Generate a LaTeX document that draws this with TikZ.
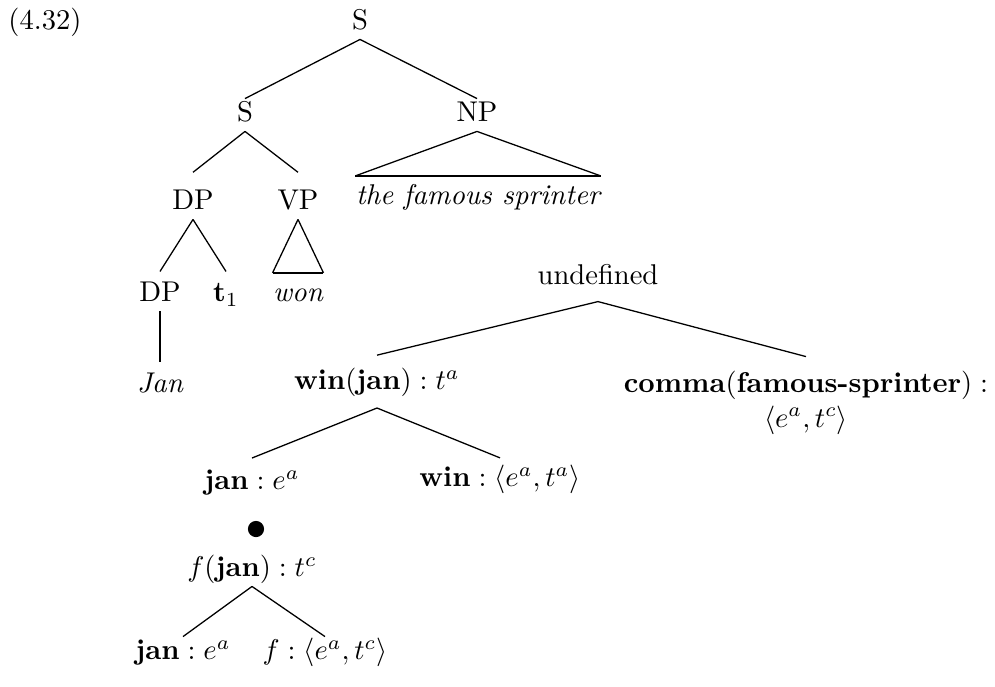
\documentclass[tikz,border=0pt]{standalone}
\usepackage{amsmath}
\begin{document}
\begin{tikzpicture}[x=0.35pt, y=-0.35pt, line width=0.45pt,
    tn/.style={inner sep=1pt, text height=1.6ex, text depth=.5ex},
    base/.style={line width=0.8pt}]
    \useasboundingbox (0,0) rectangle (995,686);

    \node[tn] (ex) at (45,23) {(4.32)};

    \node[tn] (s0) at (360,23) {S};
    \node[tn] (s1) at (245,115) {S};
    \node[tn] (np) at (477,115) {NP};
    \node[tn] (dp1) at (193,203) {DP};
    \node[tn] (vp) at (298,203) {VP};
    \node[tn, inner xsep=0pt] (fs) at (478,198) {\itshape the famous sprinter};
    \node[tn] (dp2) at (160,295) {DP};
    \node[tn] (t1) at (226,295) {$\mathbf{t}_1$};
    \node[tn, inner xsep=0pt] (won) at (298,295) {\itshape won};
    \node[tn] (jan) at (160,386) {\itshape Jan};

    \draw (s0.south) -- (s1.north);
    \draw (s0.south) -- (np.north);
    \draw (s1.south) -- ([yshift=5pt]dp1.north);
    \draw (s1.south) -- ([yshift=5pt]vp.north);
    \draw (np.south) -- ([yshift=2pt]fs.north west);
    \draw (np.south) -- ([yshift=2pt]fs.north east);
    \draw[base] ([yshift=2pt]fs.north west) -- ([yshift=2pt]fs.north east);
    \draw (dp1.south) -- ([yshift=2.5pt]dp2.north);
    \draw (dp1.south) -- ([yshift=2.5pt]t1.north);
    \draw (vp.south) -- ([yshift=2pt]won.north west);
    \draw (vp.south) -- ([yshift=2pt]won.north east);
    \draw[base] ([yshift=2pt]won.north west) -- ([yshift=2pt]won.north east);
    \draw[base] (dp2.south) -- ([yshift=2.5pt]jan.north);

    \node[tn] (undef) at (598,278) {undefined};
    \node[tn] (winjan) at (377,383) {$\textbf{win}(\textbf{jan}) : t^{a}$};
    \node[inner sep=1pt, align=center, anchor=north] (comma) at (806,368)
        {$\textbf{comma}(\textbf{famous-sprinter}) :$\\ $\langle e^{a}, t^{c}\rangle$};
    \node[tn] (jan1) at (252,483) {$\textbf{jan} : e^{a}$};
    \node[tn] (win) at (500,480) {$\textbf{win} : \langle e^{a}, t^{a}\rangle$};
    \node[circle, fill, inner sep=2pt] (dot) at (256,529) {};
    \node[tn] (fjan) at (252,570) {$f(\textbf{jan}) : t^{c}$};
    \node[tn] (jan2) at (183,653) {$\textbf{jan} : e^{a}$};
    \node[tn] (f) at (325,653) {$f : \langle e^{a}, t^{c}\rangle$};

    \draw ([yshift=-2.5pt]undef.south) -- ([yshift=4pt]winjan.north);
    \draw ([yshift=-2.5pt]undef.south) -- ([yshift=4pt]comma.north);
    \draw ([yshift=-3pt]winjan.south) -- ([yshift=3pt]jan1.north);
    \draw ([yshift=-3pt]winjan.south) -- ([yshift=2pt]win.north);
    \draw (fjan.south) -- (jan2.north);
    \draw (fjan.south) -- (f.north);
\end{tikzpicture}
\end{document}
